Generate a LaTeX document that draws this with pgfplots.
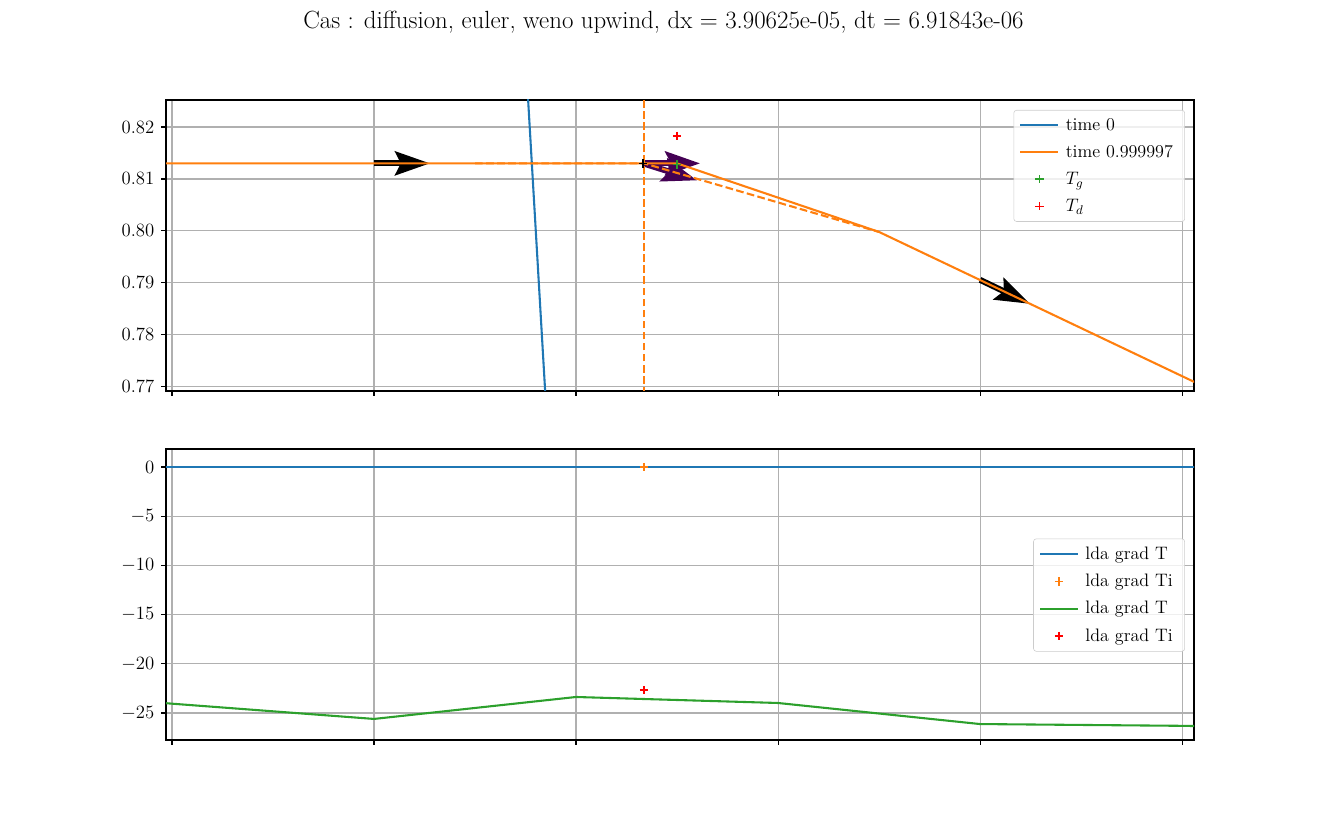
\RequirePackage{fix-cm}
\documentclass[border=0pt]{standalone}
\usepackage{pgfplots}
\pgfplotsset{compat=1.18}
\usetikzlibrary{arrows.meta}
\definecolor{tabblue}{HTML}{1F77B4}
\definecolor{taborange}{HTML}{FF7F0E}
\definecolor{tabgreen}{HTML}{2CA02C}
\definecolor{vpurple}{HTML}{440154}
\definecolor{gridgray}{HTML}{B0B0B0}
\pgfplotsset{
  myaxis/.style={
    scale only axis,
    width=740.16pt, height=209.52pt,
    xmin=-0.0297, xmax=5.059,
    xtick={0,1,2,3,4,5}, xticklabels={,,,,,},
    xtick pos=bottom, ytick pos=left,
    tick align=outside,
    major tick length=3.5pt,
    every tick/.style={black, line width=0.8pt},
    axis line style={line width=0.8pt},
    grid=major,
    major grid style={gridgray, line width=0.8pt},
    ticklabel style={font=\fontsize{13.5}{16}\selectfont},
    yticklabel style={xshift=-1.4pt},
    legend cell align=left,
    legend style={font=\fontsize{13}{15}\selectfont, rounded corners=2pt,
      draw=black!20, fill=white, fill opacity=0.8, text opacity=1,
      row sep=5.1pt, inner xsep=4pt, inner ysep=3.8pt,
      nodes={inner xsep=4.5pt}},
    clip=true,
  },
  lineleg/.style={legend image code/.code={\draw[##1] (0pt,0pt) -- (27.4pt,0pt);}},
  markleg/.style={legend image code/.code={\draw[##1] plot[only marks] coordinates {(13.7pt,0pt)};}},
}
\begin{document}
\begin{tikzpicture}[x=1pt,y=1pt]
\path[use as bounding box] (0,0) rectangle (955.44pt,599.04pt);
\node[font=\fontsize{17.9}{21}\selectfont] at (477.7pt,583.2pt) {Cas : diffusion, euler, weno upwind, dx = 3.90625e-05, dt = 6.91843e-06};
% top axis
\begin{axis}[myaxis, at={(119.52pt,317.52pt)}, anchor=south west,
  ymin=0.7692, ymax=0.8252,
  ytick={0.77,0.78,0.79,0.80,0.81,0.82},
  yticklabel style={/pgf/number format/fixed, /pgf/number format/fixed zerofill, /pgf/number format/precision=2},
  legend style={at={(0.9912,0.9656)}, anchor=north east},
]
% quiver arrows
\addplot[forget plot, black, line width=4.3pt,
  -{Stealth[length=25pt, width=17pt, inset=4pt]},
  quiver={u=\thisrow{u}, v=\thisrow{v}}] table {
x y u v
1.0 0.8130 0.277 0
4.0 0.79058 0.2475 -0.004615
};
\addplot[forget plot, vpurple, line width=4.3pt,
  -{Stealth[length=25pt, width=17pt, inset=4pt]},
  quiver={u=\thisrow{u}, v=\thisrow{v}}] table {
x y u v
2.332 0.8130 0.282 0
2.332 0.8130 0.267 -0.00327
};
\addplot[forget plot, taborange, line width=1.5pt, dash pattern=on 5.55pt off 2.4pt] coordinates {(1.5,0.8130) (2.337,0.8130) (3.5,0.7998)};
\addplot[forget plot, taborange, line width=1.5pt, dash pattern=on 5.55pt off 2.4pt] coordinates {(2.337,0.76) (2.337,0.83)};
\addplot[forget plot, only marks, mark=+, mark size=3pt, black, mark options={line width=1pt}] coordinates {(2.332,0.8130)};
\addplot[forget plot, tabblue, line width=1.5pt, mark=none] coordinates {(1.5,1.0) (2.5,0.335)};
\addplot[forget plot, taborange, line width=1.5pt, mark=none] coordinates {(-0.5,0.8130) (0.5,0.8130) (1.5,0.8130) (2.5,0.8130) (3.5,0.7998) (4.5,0.7813) (5.5,0.7628)};
\addplot[forget plot, only marks, mark=+, mark size=3pt, tabgreen, mark options={line width=1pt}] coordinates {(2.5,0.8128)};
\addplot[forget plot, only marks, mark=+, mark size=3pt, red, mark options={line width=1pt}] coordinates {(2.5,0.8183)};
\addlegendimage{lineleg, tabblue, line width=1.5pt}
\addlegendentry{time 0}
\addlegendimage{lineleg, taborange, line width=1.5pt}
\addlegendentry{time 0.999997}
\addlegendimage{markleg, mark=+, mark size=3pt, tabgreen, mark options={line width=1pt}}
\addlegendentry{$T_g$}
\addlegendimage{markleg, mark=+, mark size=3pt, red, mark options={line width=1pt}}
\addlegendentry{$T_d$}
\end{axis}
% bottom axis
\begin{axis}[myaxis, at={(119.52pt,66.24pt)}, anchor=south west,
  ymin=-27.74, ymax=1.83,
  ytick={-25,-20,-15,-10,-5,0},
  legend style={at={(0.9912,0.498)}, anchor=east},
]
\addplot[forget plot, tabblue, line width=1.5pt, mark=none] coordinates {(-0.5,0) (5.5,0)};
\addplot[forget plot, only marks, mark=+, mark size=3pt, taborange, mark options={line width=1pt}] coordinates {(2.337,0)};
\addplot[forget plot, tabgreen, line width=1.5pt, mark=none] coordinates {(-0.0297,-24.0) (0,-24.05) (1,-25.6) (2,-23.37) (3,-23.98) (4,-26.12) (5,-26.3) (5.059,-26.32)};
\addplot[forget plot, only marks, mark=+, mark size=3pt, red, mark options={line width=1pt}] coordinates {(2.337,-22.66)};
\addlegendimage{lineleg, tabblue, line width=1.5pt}
\addlegendentry{lda grad T}
\addlegendimage{markleg, mark=+, mark size=3pt, taborange, mark options={line width=1pt}}
\addlegendentry{lda grad Ti}
\addlegendimage{lineleg, tabgreen, line width=1.5pt}
\addlegendentry{lda grad T}
\addlegendimage{markleg, mark=+, mark size=3pt, red, mark options={line width=1pt}}
\addlegendentry{lda grad Ti}
\end{axis}
\end{tikzpicture}
\end{document}
